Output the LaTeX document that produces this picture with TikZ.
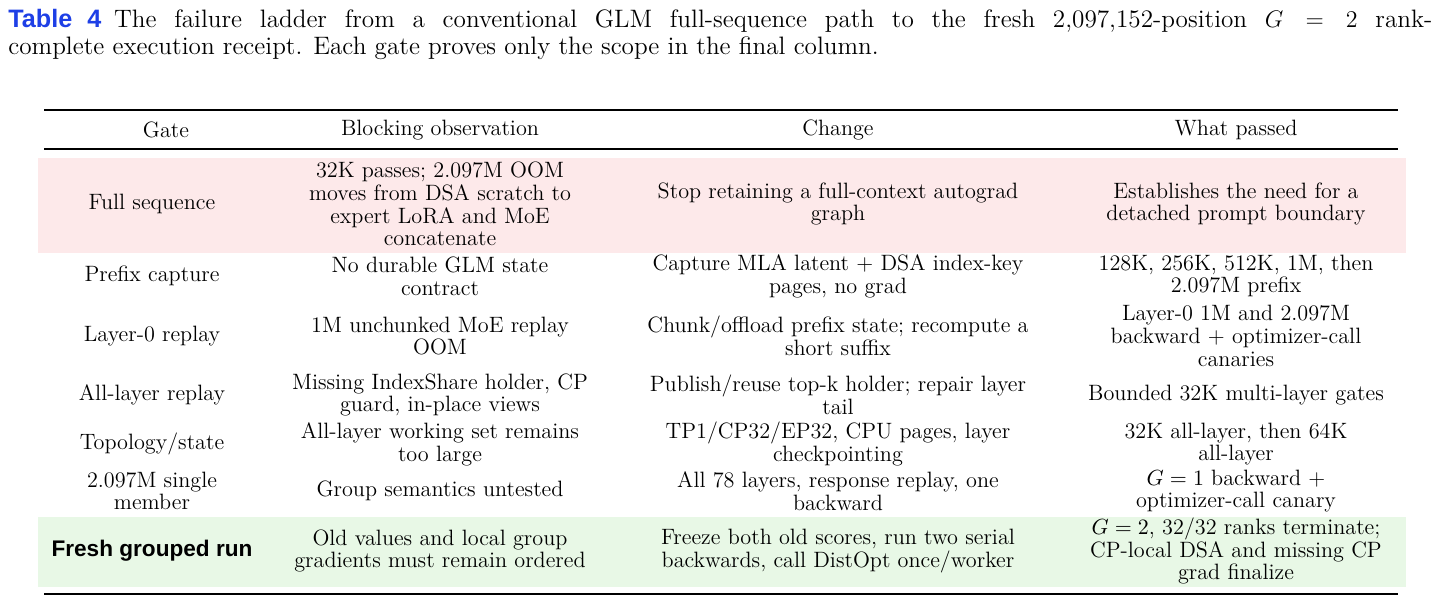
\documentclass[tikz,border=0pt]{standalone}
\usepackage{fontspec}
\newfontfamily\sansb{Liberation Sans}
\definecolor{pinkbg}{HTML}{FDE9EA}
\definecolor{greenbg}{HTML}{E8F8E6}
\definecolor{capblue}{HTML}{1E3FE6}
\begin{document}
\begin{tikzpicture}[x=0.5pt,y=-0.5pt,
  cell/.style={align=center,font=\fontsize{11.1}{11.4}\selectfont,inner sep=0pt},
  rule/.style={line width=1.1pt}]
\useasboundingbox (0,0) rectangle (1448,614);
\fill[pinkbg] (38,158) rectangle (1406,253);
\fill[greenbg] (38,517) rectangle (1406,587);
\node[anchor=north west,inner sep=0pt,text width=712pt,align=justify,font=\fontsize{12.6}{13.6}\selectfont] (cap) at (8,9)
 {{\sansb\bfseries\color{capblue}Table 4}\hspace{0.5em}The failure ladder from a conventional GLM full-sequence path to the fresh 2,097,152-position $G=2$ rank-\linebreak complete execution receipt. Each gate proves only the scope in the final column.};
\draw[rule] (44,110) coordinate (t1) -- (1398,110) coordinate (t2);
\draw[line width=0.6pt] (44,149) coordinate (m1) -- (1398,149) coordinate (m2);
\draw[rule] (44,594) coordinate (b1) -- (1398,594) coordinate (b2);
\node[cell] (h1) at (166,130) {Gate};
\node[cell] (h2) at (440,130) {Blocking observation};
\node[cell] (h3) at (838,130) {Change};
\node[cell] (h4) at (1236,130) {What passed};
% row 1
\node[cell] (a1) at (152,204) {Full sequence};
\node[cell] (b1n) at (440,204) {32K passes; 2.097M OOM\\moves from DSA scratch to\\expert LoRA and MoE\\concatenate};
\node[cell] (c1) at (838,204) {Stop retaining a full-context autograd\\graph};
\node[cell] (d1) at (1236,204) {Establishes the need for a\\detached prompt boundary};
% row 2
\node[cell] (a2) at (152,276) {Prefix capture};
\node[cell] (b2n) at (440,276) {No durable GLM state\\contract};
\node[cell] (c2) at (838,276) {Capture MLA latent + DSA index-key\\pages, no grad};
\node[cell] (d2) at (1236,276) {128K, 256K, 512K, 1M, then\\2.097M prefix};
% row 3
\node[cell] (a3) at (152,336) {Layer-0 replay};
\node[cell] (b3n) at (440,336) {1M unchunked MoE replay\\OOM};
\node[cell] (c3) at (838,336) {Chunk/offload prefix state; recompute a\\short suffix};
\node[cell] (d3) at (1236,336) {Layer-0 1M and 2.097M\\backward + optimizer-call\\canaries};
% row 4
\node[cell] (a4) at (152,395) {All-layer replay};
\node[cell] (b4n) at (440,395) {Missing IndexShare holder, CP\\guard, in-place views};
\node[cell] (c4) at (838,395) {Publish/reuse top-k holder; repair layer\\tail};
\node[cell] (d4) at (1236,395) {Bounded 32K multi-layer gates};
% row 5
\node[cell] (a5) at (152,444) {Topology/state};
\node[cell] (b5n) at (440,444) {All-layer working set remains\\too large};
\node[cell] (c5) at (838,444) {TP1/CP32/EP32, CPU pages, layer\\checkpointing};
\node[cell] (d5) at (1236,444) {32K all-layer, then 64K\\all-layer};
% row 6
\node[cell] (a6) at (152,491) {2.097M single\\member};
\node[cell] (b6n) at (440,491) {Group semantics untested};
\node[cell] (c6) at (838,491) {All 78 layers, response replay, one\\backward};
\node[cell] (d6) at (1236,491) {$G=1$ backward +\\optimizer-call canary};
% row 7
\node[cell,font=\sansb\bfseries\fontsize{11.3}{12}\selectfont] (a7) at (152,551) {Fresh grouped run};
\node[cell] (b7n) at (440,551) {Old values and local group\\gradients must remain ordered};
\node[cell] (c7) at (838,551) {Freeze both old scores, run two serial\\backwards, call DistOpt once/worker};
\node[cell] (d7) at (1236,551) {$G=2$, 32/32 ranks terminate;\\CP-local DSA and missing CP\\grad finalize};
\end{tikzpicture}
\end{document}
